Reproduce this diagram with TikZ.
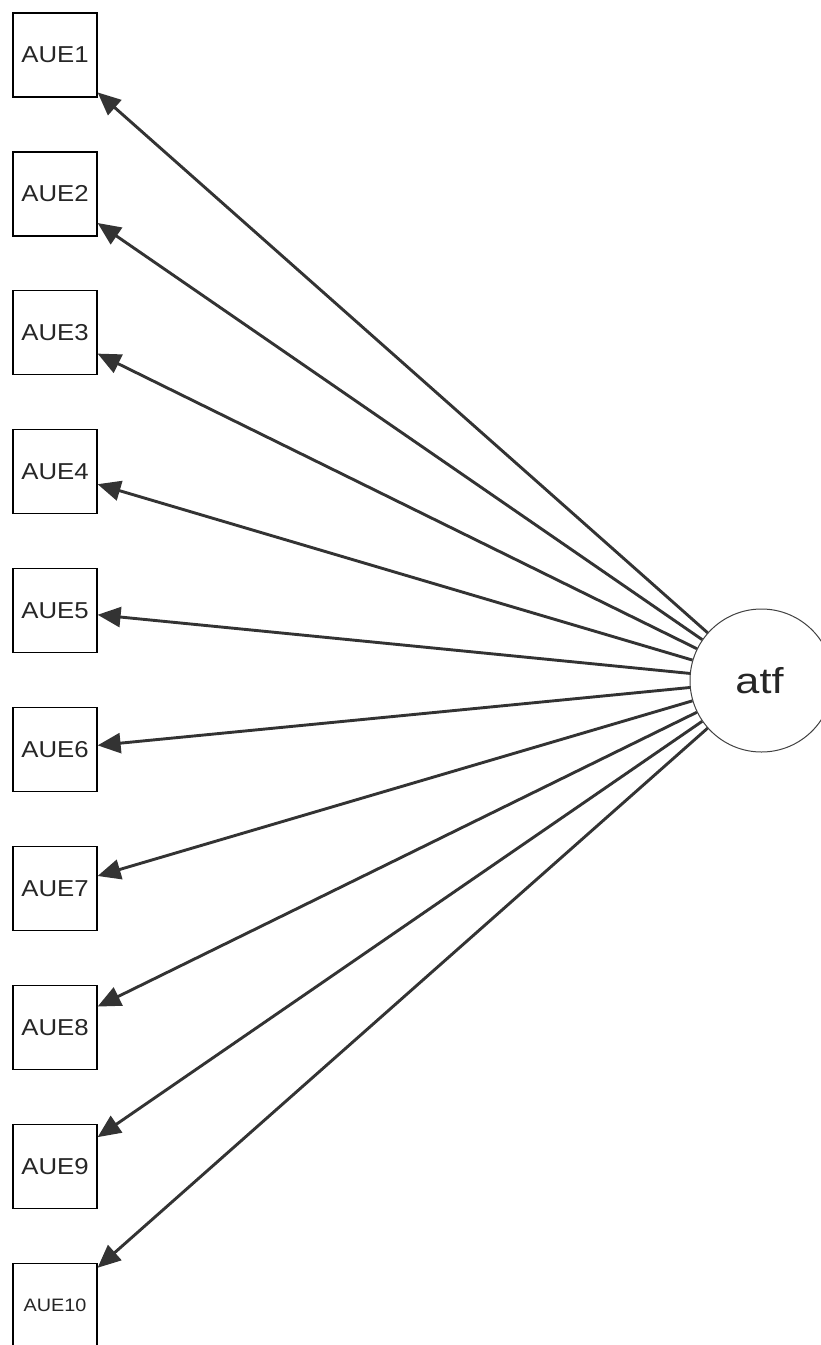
\documentclass[tikz,border=0pt]{standalone}
\usepackage{fontspec}
\setmainfont{Liberation Sans}
\usetikzlibrary{arrows.meta}
\definecolor{edgecol}{HTML}{333333}
\begin{document}
\begin{tikzpicture}[x=1pt,y=-1pt,
  manifest/.style={draw=black, line width=1.2pt, minimum width=84pt, minimum height=84pt, inner sep=0pt, fill=white,
    font=\fontsize{23}{23}\selectfont, text=black!85},
  latent/.style={circle, draw=black!75, line width=1pt, minimum size=143pt, inner sep=0pt, fill=white},
  loading/.style={draw=edgecol, line width=2.9pt, -{Triangle[length=23pt,width=20pt]}}
]
\useasboundingbox (0,0) rectangle (821,1345);
\node[latent] (atf) at (761.5,680.5) {};
\node[text=black!85] at ([xshift=-2pt]atf.center) {\fontsize{36}{36}\selectfont\scalebox{1.2}[1]{atf}};
\foreach \i in {1,...,9}{
  \node[manifest] (AUE\i) at (55,{55+138.9*(\i-1)}) {\scalebox{1.12}[1]{AUE\i}};
}
\node[manifest] (AUE10) at (55,{55+138.9*9}) {\fontsize{18}{18}\selectfont\scalebox{1.1}[1]{AUE10}};
\foreach \i in {1,...,10}{
  \draw[loading] (atf) -- (AUE\i);
}
\end{tikzpicture}
\end{document}
